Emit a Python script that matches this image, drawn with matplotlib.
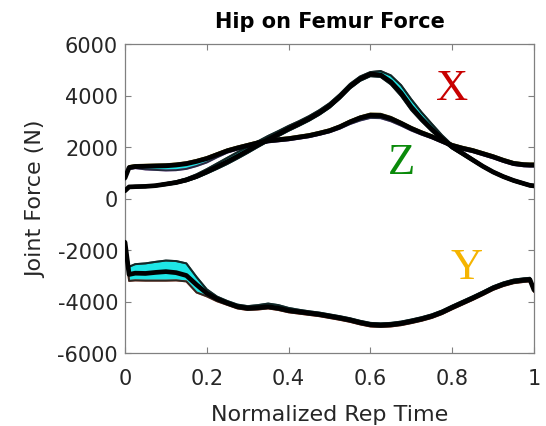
import matplotlib
matplotlib.use("Agg")
import matplotlib.pyplot as plt
import numpy as np

# Normalized rep time samples
t = [0, 0.01, 0.025, 0.05, 0.075, 0.1, 0.125, 0.15, 0.175, 0.2, 0.225, 0.25,
     0.275, 0.3, 0.325, 0.35, 0.375, 0.4, 0.425, 0.45, 0.475, 0.5, 0.525, 0.55,
     0.575, 0.6, 0.625, 0.65, 0.675, 0.7, 0.725, 0.75, 0.775, 0.8, 0.825, 0.85,
     0.875, 0.9, 0.925, 0.95, 0.975, 0.99, 1.0]

# X component (N): mean curve and spread above / below it
x_mean = [300, 450, 460, 470, 500, 560, 620, 720, 860, 1040, 1230, 1430,
          1640, 1860, 2080, 2300, 2500, 2710, 2900, 3100, 3330, 3600, 3950, 4350,
          4650, 4830, 4800, 4530, 4100, 3550, 3100, 2700, 2330, 2000, 1750, 1500,
          1250, 1030, 850, 700, 580, 510, 490]
x_up = [30, 30, 30, 30, 30, 40, 50, 60, 80, 100, 130, 150,
        160, 150, 140, 130, 120, 110, 100, 100, 100, 100, 100, 100,
        90, 80, 150, 250, 300, 300, 250, 200, 130, 80, 60, 50,
        40, 40, 40, 40, 40, 40, 40]
x_lo = [30, 30, 30, 30, 30, 40, 40, 50, 60, 70, 80, 90,
        90, 90, 80, 80, 80, 80, 80, 80, 80, 80, 80, 80,
        80, 80, 80, 100, 120, 120, 100, 90, 70, 60, 50, 50,
        40, 40, 40, 40, 40, 40, 40]

# Z component (N)
z_mean = [800, 1200, 1240, 1250, 1260, 1270, 1300, 1350, 1440, 1550, 1700, 1850,
          1960, 2060, 2160, 2240, 2280, 2320, 2380, 2440, 2530, 2630, 2780, 2970,
          3130, 3230, 3220, 3100, 2920, 2720, 2550, 2400, 2230, 2060, 1950, 1860,
          1740, 1620, 1480, 1360, 1310, 1300, 1300]
z_up = [60, 60, 60, 60, 60, 60, 60, 60, 60, 60, 60, 60,
        60, 60, 60, 60, 60, 60, 60, 60, 60, 60, 60, 60,
        60, 70, 70, 70, 60, 60, 60, 60, 60, 60, 60, 60,
        60, 60, 60, 60, 60, 60, 60]
z_lo = [60, 60, 60, 120, 150, 180, 200, 200, 180, 150, 100, 70,
        60, 60, 60, 60, 60, 60, 60, 60, 60, 60, 70, 80,
        100, 100, 100, 100, 90, 80, 70, 60, 60, 60, 60, 60,
        60, 60, 60, 60, 60, 60, 60]

# Y component (N)
y_mean = [-1700, -2950, -2900, -2910, -2870, -2840, -2880, -2990, -3350, -3680, -3900, -4060,
          -4200, -4260, -4240, -4200, -4260, -4350, -4400, -4450, -4500, -4570, -4640, -4720,
          -4820, -4900, -4920, -4900, -4850, -4770, -4680, -4570, -4420, -4230, -4050, -3870,
          -3680, -3480, -3330, -3220, -3170, -3150, -3550]
y_up = [50, 300, 350, 390, 410, 430, 450, 470, 300, 150, 90, 80,
        80, 80, 100, 120, 120, 100, 80, 70, 70, 70, 70, 70,
        70, 70, 70, 70, 70, 70, 70, 70, 70, 70, 70, 70,
        70, 70, 70, 70, 70, 70, 70]
y_lo = [50, 250, 280, 280, 320, 350, 300, 230, 300, 120, 90, 70,
        70, 70, 70, 70, 70, 70, 70, 70, 70, 70, 70, 70,
        70, 70, 70, 70, 70, 70, 70, 70, 70, 70, 70, 70,
        70, 70, 70, 70, 70, 70, 70]

component_labels = ["X", "Y", "Z"]
label_colors = ["#c80000", "#f5b400", "#0a8a0a"]
label_pos = [(0.80, 4300), (0.835, -2650), (0.677, 1400)]

xticks = [0, 0.2, 0.4, 0.6, 0.8, 1]
yticks = [-6000, -4000, -2000, 0, 2000, 4000, 6000]

plt.rcParams['font.family'] = ['DejaVu Sans']
fig = plt.figure(figsize=(5.46, 4.27), dpi=100)
ax = fig.add_axes([125 / 546, 1 - 354 / 427, (534 - 125) / 546, (354 - 45) / 427])

cyan = "#1ee6e6"


def draw(mean, up, lo, up_col, lo_col):
    mean = np.asarray(mean, float)
    upper = mean + np.asarray(up, float)
    lower = mean - np.asarray(lo, float)
    ax.fill_between(t, lower, upper, color=cyan, lw=0, zorder=1)
    ax.plot(t, upper, color=up_col, lw=1.4, zorder=2)
    ax.plot(t, lower, color=lo_col, lw=1.4, zorder=2)
    ax.plot(t, upper, color="#0e2424", lw=1.4, alpha=0.85, zorder=3)
    ax.plot(t, lower, color="#0e2424", lw=1.4, alpha=0.85, zorder=3)
    ax.plot(t, mean, color="black", lw=3.4, zorder=4,
            solid_capstyle="round", solid_joinstyle="round")


draw(z_mean, z_up, z_lo, "#f0c040", "#b060d0")
draw(x_mean, x_up, x_lo, "#203030", "#203030")
draw(y_mean, y_up, y_lo, "#204040", "#e04020")

for lab, col, (px, py) in zip(component_labels, label_colors, label_pos):
    ax.text(px, py, lab, color=col, fontsize=32,
            family=['Liberation Serif', 'DejaVu Serif'],
            ha="center", va="center")

ax.set_xlim(0, 1)
ax.set_ylim(-6000, 6000)
ax.set_xticks(xticks)
ax.set_xticklabels(["0", "0.2", "0.4", "0.6", "0.8", "1"])
ax.set_yticks(yticks)
ax.set_yticklabels([str(v) for v in yticks])
ax.tick_params(direction="in", length=4, width=0.8, colors="#808080",
               labelcolor="#262626", labelsize=15, top=True, right=True)
ax.tick_params(axis="x", pad=11)
ax.tick_params(axis="y", pad=5)
for s in ax.spines.values():
    s.set_color("#808080")
    s.set_linewidth(0.9)

ax.set_title("Hip on Femur Force", fontsize=15, fontweight="bold",
             color="black", pad=12)
ax.set_xlabel("Normalized Rep Time", fontsize=16, color="#262626", labelpad=11)
ax.set_ylabel("Joint Force (N)", fontsize=16, color="#262626", labelpad=8)

fig.savefig("out.png", dpi=100)
